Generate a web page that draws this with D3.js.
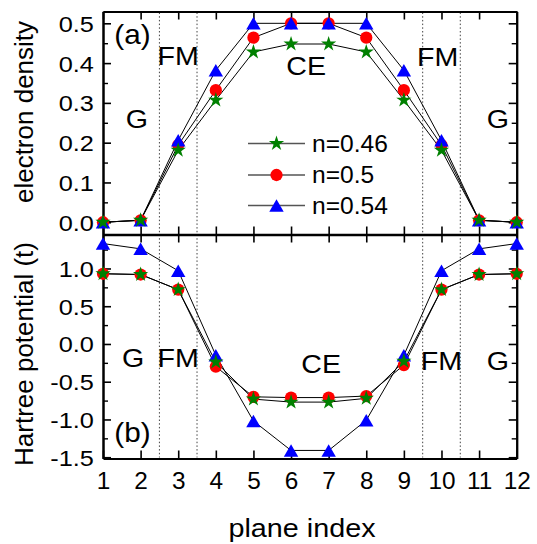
<!DOCTYPE html>
<html><head><meta charset="utf-8">
<script src="https://cdn.jsdelivr.net/npm/d3@7"></script>
<style>
body{margin:0;background:#fff;}
text{font-family:"Liberation Sans",Arial,sans-serif;fill:#000;}
</style></head>
<body><svg id="c" width="537" height="544"></svg>
<script>
// ---- data ----
const planeIndex = [1,2,3,4,5,6,7,8,9,10,11,12];
const densN046 = [0.0, 0.005, 0.181, 0.307, 0.428, 0.448, 0.448, 0.428, 0.307, 0.181, 0.005, 0.0];
const densN050 = [0.0, 0.005, 0.194, 0.332, 0.464, 0.5, 0.5, 0.464, 0.332, 0.194, 0.005, 0.0];
const densN054 = [0.0, 0.005, 0.206, 0.382, 0.5, 0.5, 0.5, 0.5, 0.382, 0.206, 0.005, 0.0];
const hartN046 = [0.93, 0.92, 0.72, -0.24, -0.73, -0.77, -0.77, -0.72, -0.23, 0.72, 0.92, 0.93];
const hartN050 = [0.93, 0.92, 0.72, -0.30, -0.70, -0.71, -0.71, -0.69, -0.28, 0.72, 0.92, 0.93];
const hartN054 = [1.33, 1.26, 0.97, -0.15, -1.02, -1.41, -1.41, -1.01, -0.15, 0.97, 1.26, 1.33];
const seriesLabels = ["n=0.46", "n=0.5", "n=0.54"];
const densTicks = [0, 0.1, 0.2, 0.3, 0.4, 0.5];
const densMinor = [0.05, 0.15, 0.25, 0.35, 0.45];
const hartTicks = [-1.5, -1.0, -0.5, 0, 0.5, 1.0];
const hartMinor = [-1.25, -0.75, -0.25, 0.25, 0.75, 1.25];
const phaseBounds = [2.5, 3.5, 9.5, 10.5];
const regionsA = [["G",1.9,128],["FM",3.0,65],["CE",6.4,75],["FM",9.9,66],["G",11.5,128]];
const regionsB = [["G",1.8,367],["FM",3.0,367],["CE",6.8,373],["FM",10.0,370],["G",11.5,370]];

// ---- layout ----
const L = 103, R = 516.7, T = 11.5, M = 234.5, B = 458.5;
const svg = d3.select("#c");
const x = d3.scaleLinear().domain([1,12]).range([L,R]);
const ya = d3.scaleLinear().domain([-0.0308,0.5297]).range([M,T]);
const yb = d3.scaleLinear().domain([-1.517,1.450]).range([B,M]);
const SX = 1.15;

function txt(g, px, py, s, size, anchor, sx){
  g.append("text").attr("transform",`translate(${px},${py}) scale(${sx},1)`)
   .attr("text-anchor",anchor).style("font-size",size+"px").text(s);
}

// dotted phase boundaries
const dots = svg.append("g");
phaseBounds.forEach(b=>{
  dots.append("line").attr("x1",x(b)).attr("x2",x(b)).attr("y1",T+1).attr("y2",B-1)
    .attr("stroke","#444").attr("stroke-width",1).attr("stroke-dasharray","1.5,2.2");
});

// axes
function styleAxis(g, w){
  g.select(".domain").attr("stroke","#000").attr("stroke-width",2);
  g.selectAll(".tick line").attr("stroke","#000").attr("stroke-width",w||1.6);
  g.selectAll(".tick text").style("font-size","22px").attr("fill","#000")
    .style("font-family",'"Liberation Sans",Arial,sans-serif');
}
function yAxes(scale, major, minor){
  const gl = svg.append("g").attr("transform",`translate(${L},0)`)
    .call(d3.axisLeft(scale).tickValues(major).tickSizeInner(-8).tickSizeOuter(0).tickPadding(8)
      .tickFormat(d=>d.toFixed(1)));
  styleAxis(gl);
  gl.selectAll(".tick text").attr("transform",`scale(${SX},1)`).attr("dy","0.36em");
  const gm = svg.append("g").attr("transform",`translate(${L},0)`)
    .call(d3.axisLeft(scale).tickValues(minor).tickSizeInner(-5).tickSizeOuter(0).tickFormat(""));
  styleAxis(gm,1.4);
  const gr = svg.append("g").attr("transform",`translate(${R},0)`)
    .call(d3.axisRight(scale).tickValues(major).tickSizeInner(-8).tickSizeOuter(0).tickFormat(""));
  styleAxis(gr);
  const grm = svg.append("g").attr("transform",`translate(${R},0)`)
    .call(d3.axisRight(scale).tickValues(minor).tickSizeInner(-5).tickSizeOuter(0).tickFormat(""));
  styleAxis(grm,1.4);
}
yAxes(ya, densTicks, densMinor);
yAxes(yb, hartTicks, hartMinor);

const gTop = svg.append("g").attr("transform",`translate(0,${T})`)
  .call(d3.axisTop(x).tickValues(planeIndex).tickSizeInner(-8).tickSizeOuter(0).tickFormat(""));
styleAxis(gTop);
const gMidA = svg.append("g").attr("transform",`translate(0,${M})`)
  .call(d3.axisBottom(x).tickValues(planeIndex).tickSizeInner(-8).tickSizeOuter(0).tickFormat(""));
styleAxis(gMidA);
const gMidB = svg.append("g").attr("transform",`translate(0,${M})`)
  .call(d3.axisTop(x).tickValues(planeIndex).tickSizeInner(-8).tickSizeOuter(0).tickFormat(""));
styleAxis(gMidB);
gMidB.select(".domain").attr("stroke-width",2.4);
const gBot = svg.append("g").attr("transform",`translate(0,${B})`)
  .call(d3.axisBottom(x).tickValues(planeIndex).tickSizeInner(-8).tickSizeOuter(0).tickPadding(14)
    .tickFormat(d3.format("d")));
styleAxis(gBot);
gBot.selectAll(".tick text").style("font-size","23px").attr("transform",`scale(1.06,1)`);

// series
const colors = ["#008000","#ff0000","#0000ff"];
const shapes = [d3.symbolStar, d3.symbolCircle, d3.symbolTriangle];
const sizes = [72, 118, 90];
function symPath(i){ return d3.symbol().type(shapes[i]).size(sizes[i])(); }
function triOffset(i){ return i===2 ? Math.sqrt(sizes[2]/(Math.sqrt(3)*3))/2 : 0; }

function drawPanel(scale, arrs){
  const line = d3.line().x((d,i)=>x(planeIndex[i])).y(d=>scale(d));
  arrs.forEach(a=>{
    svg.append("path").datum(a).attr("d",line).attr("fill","none")
      .attr("stroke","#000").attr("stroke-width",1);
  });
  // draw order: n=0.5, n=0.54, n=0.46
  [1,2,0].forEach(si=>{
    svg.append("g").selectAll("path").data(arrs[si]).join("path")
      .attr("d",symPath(si)).attr("fill",colors[si])
      .attr("transform",(d,i)=>`translate(${x(planeIndex[i])},${scale(d)+triOffset(si)})`);
  });
}
drawPanel(ya, [densN046, densN050, densN054]);
drawPanel(yb, [hartN046, hartN050, hartN054]);

// legend
const lg = svg.append("g");
const rowY = [143.5, 175, 205.5];
seriesLabels.forEach((s,i)=>{
  lg.append("line").attr("x1",248).attr("x2",305).attr("y1",rowY[i]).attr("y2",rowY[i])
    .attr("stroke","#555").attr("stroke-width",1.5);
  lg.append("path").attr("d",symPath(i)).attr("fill",colors[i])
    .attr("transform",`translate(276.5,${rowY[i]+triOffset(i)})`);
  txt(lg, 312, rowY[i]+8, s, 23, "start", 1.07);
});

// region labels
const rg = svg.append("g");
regionsA.forEach(r=>txt(rg, x(r[1]), r[2], r[0], 26, "middle", 1.1));
regionsB.forEach(r=>txt(rg, x(r[1]), r[2], r[0], 26, "middle", 1.1));
txt(rg, 132.5, 44, "(a)", 27, "middle", 1.1);
txt(rg, 132.5, 442, "(b)", 27, "middle", 1.1);

// axis titles
txt(svg, 302, 537, "plane index", 25, "middle", 1.15);
svg.append("text").attr("transform","translate(33,112) rotate(-90)")
  .attr("text-anchor","middle").style("font-size","26px").text("electron density");
svg.append("text").attr("transform","translate(33,354) rotate(-90)")
  .attr("text-anchor","middle").style("font-size","26px").text("Hartree potential (t)");
</script></body></html>
